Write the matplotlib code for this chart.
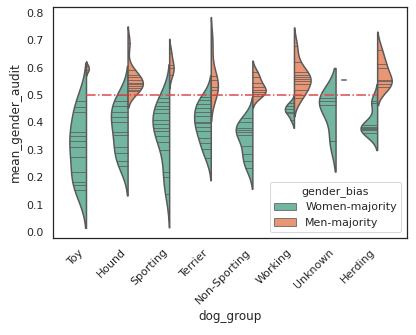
import colorsys
import numpy as np
import matplotlib.pyplot as plt
from matplotlib.colors import to_rgb
from matplotlib.patches import Patch

plt.rcParams['font.family'] = 'DejaVu Sans'
plt.rcParams['text.color'] = '.15'
plt.rcParams['axes.labelcolor'] = '.15'
plt.rcParams['xtick.color'] = '.15'
plt.rcParams['ytick.color'] = '.15'

## Data
groups = ['Toy', 'Hound', 'Sporting', 'Terrier', 'Non-Sporting', 'Working', 'Unknown', 'Herding']
hue_levels = ['Women-majority', 'Men-majority']

toy_w = [0.480, 0.456, 0.439, 0.366, 0.351, 0.334, 0.309, 0.273, 0.220, 0.184, 0.172, 0.153]
toy_m = [0.590, 0.605]
hound_w = [0.500, 0.480, 0.460, 0.440, 0.420, 0.400, 0.365, 0.355, 0.310, 0.290, 0.260, 0.240]
hound_m = [0.515, 0.520, 0.525, 0.533, 0.540, 0.545, 0.555, 0.565, 0.575, 0.590, 0.690]
sporting_w = [0.490, 0.475, 0.460, 0.450, 0.435, 0.410, 0.395, 0.380, 0.370, 0.350, 0.330,
              0.300, 0.220, 0.200, 0.140]
sporting_m = [0.575, 0.600, 0.610, 0.655]
terrier_w = [0.492, 0.482, 0.466, 0.454, 0.440, 0.424, 0.403, 0.397, 0.382, 0.370, 0.342,
             0.326, 0.302, 0.270]
terrier_m = [0.500, 0.520, 0.530, 0.555, 0.570, 0.690]
nonsport_w = [0.415, 0.400, 0.380, 0.372, 0.366, 0.355, 0.315, 0.285, 0.260, 0.235]
nonsport_m = [0.495, 0.505, 0.512, 0.520, 0.530, 0.545, 0.565, 0.585]
working_w = [0.470, 0.460, 0.450, 0.440, 0.435, 0.410]
working_m = [0.490, 0.500, 0.520, 0.540, 0.550, 0.560, 0.565, 0.575, 0.585, 0.620, 0.680]
unknown_w = [0.488, 0.480, 0.464, 0.332]
unknown_m = [0.555]
herding_w = [0.480, 0.470, 0.390, 0.385, 0.380, 0.378, 0.373, 0.360]
herding_m = [0.530, 0.540, 0.550, 0.555, 0.600, 0.615, 0.665]

women = [toy_w, hound_w, sporting_w, terrier_w, nonsport_w, working_w, unknown_w, herding_w]
men = [toy_m, hound_m, sporting_m, terrier_m, nonsport_m, working_m, unknown_m, herding_m]
threshold = 0.5


## Colors: Set2, desaturated like old seaborn patches
def desat(c, prop):
    h, l, s = colorsys.rgb_to_hls(*to_rgb(c))
    return colorsys.hls_to_rgb(h, l, s * prop)

colors = [desat('#66c2a5', .75), desat('#fc8d62', .75)]
lum = min(colorsys.rgb_to_hls(*c)[1] for c in colors) * .6
gray = (lum, lum, lum)
lw = 1.5
dwidth = 0.4


def kde_curve(vals):
    x = np.asarray(vals, dtype=float)
    bw = len(x) ** (-1 / 5) * x.std(ddof=1)
    y = np.linspace(x.min() - 2 * bw, x.max() + 2 * bw, 100)
    d = np.exp(-0.5 * ((y[:, None] - x[None, :]) / bw) ** 2).sum(axis=1)
    return y, d / d.max()


fig = plt.figure(figsize=(416 / 72, 335 / 72), dpi=72)
ax = fig.add_axes([0.1267, 0.2904, 0.8509, 0.6896])

for i, g in enumerate(groups):
    pair = [women[i], men[i]]
    nmax = max(len(p) for p in pair)
    for j, vals in enumerate(pair):
        scaler = len(vals) / nmax
        sign = -1 if j == 0 else 1
        if len(vals) == 1:
            # single observation: short dash at the dodge position
            half = 0.5 * scaler * dwidth
            at = i + 0.2 * sign
            ax.plot([at - half, at + half], [vals[0], vals[0]], color=gray, lw=lw)
            continue
        y, d = kde_curve(vals)
        d = d * scaler
        ax.fill_betweenx(y, i, i + sign * d * dwidth, facecolor=colors[j],
                         edgecolor=gray, linewidth=lw)
        for v in vals:
            idx = np.argmin(np.abs(y - v))
            w = dwidth * d[idx] * .99
            ax.plot([i, i + sign * w], [v, v], color=gray, lw=lw * .5)

ax.hlines(threshold, 0, len(groups) - 1, colors='#d9484a', linestyles='-.', lw=1.5)

ax.set_xlim(-0.80, 7.71)
ax.set_ylim(-0.021, 0.823)
ax.set_xticks(range(len(groups)))
ax.set_xticklabels(groups, rotation=45, ha='right', fontsize=11)
ax.set_yticks(np.arange(0, 0.81, 0.1))
ax.set_yticklabels(['%.1f' % t for t in np.arange(0, 0.81, 0.1)], fontsize=11)
ax.tick_params(length=0, pad=9.5)
for s in ax.spines.values():
    s.set_color('.15')
    s.set_linewidth(1.25)
ax.set_xlabel('dog_group', fontsize=12)
ax.set_ylabel('mean_gender_audit', fontsize=12)

handles = [Patch(facecolor=c, edgecolor=gray, lw=lw / 2, label=l) for c, l in zip(colors, hue_levels)]
leg = ax.legend(handles=handles, title='gender_bias', loc='lower right', fontsize=11,
                title_fontsize=11, edgecolor='0.8', fancybox=True)

fig.savefig('out.png', dpi=72)
